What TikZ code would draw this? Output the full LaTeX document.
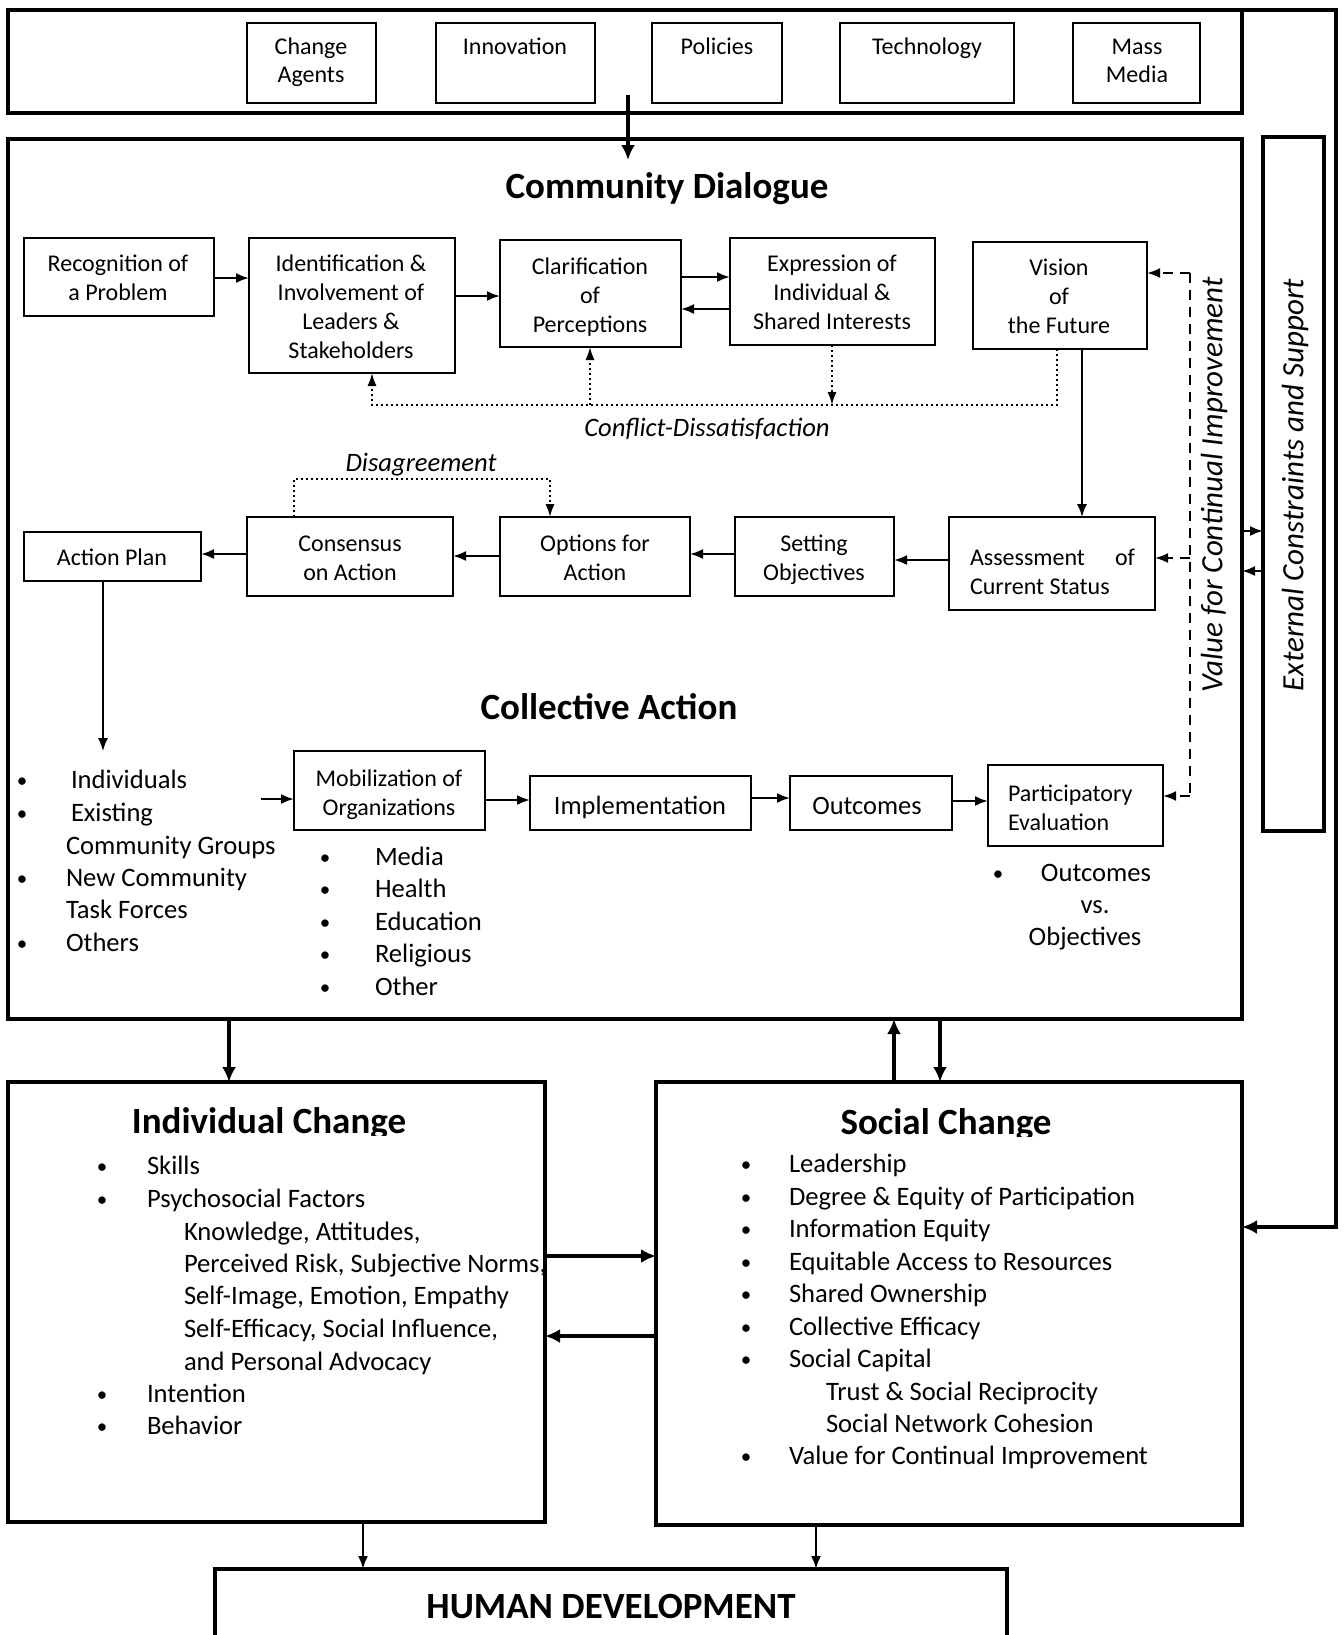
\documentclass[tikz,border=0pt]{standalone}
\usepackage{fontspec}
\setmainfont{Carlito}
\usetikzlibrary{arrows.meta,fit}
\begin{document}
\begin{tikzpicture}[x=0.5pt,y=-0.5pt,
  every node/.style={inner sep=0pt,outer sep=0pt},
  box/.style={draw,line width=1.4pt},
  heavy/.style={draw,line width=1.8pt},
  bt/.style={font=\fontsize{12}{14.5}\selectfont,align=center,
    execute at begin node=\strut,execute at end node=\strut},
  bt13/.style={font=\fontsize{13.2}{16}\selectfont,align=center,
    execute at begin node=\strut,execute at end node=\strut},
  ttl/.style={font=\bfseries\fontsize{18.5}{22}\selectfont,anchor=base},
  lab/.style={font=\itshape\fontsize{13.3}{16}\selectfont},
  rot/.style={rotate=90,font=\itshape\fontsize{15.5}{18}\selectfont},
  li/.style={font=\fontsize{13.3}{16}\selectfont,anchor=base west},
  bu/.style={font=\fontsize{10.5}{12}\selectfont,anchor=base},
  pl/.style={font=\fontsize{13.3}{16}\selectfont,anchor=base},
  arr/.style={-{Latex[length=6.5pt,width=5pt]}},
  arrs/.style={-{Latex[length=6.5pt,width=4.6pt]}},
  arrb/.style={-{Latex[length=7.5pt,width=7pt]}},
  thinl/.style={line width=0.8pt},
  medl/.style={line width=1.1pt},
  thkl/.style={line width=1.8pt},
  fb/.style={line width=1pt,dash pattern=on 1.2pt off 1.3pt},
  dsh/.style={line width=1pt,dash pattern=on 5pt off 3.5pt}]

\useasboundingbox (0,0) rectangle (1344,1635);

% ---------- top box ----------
\node[heavy,fit={(8,10) (1242,113)}] (top) {};
\node[box,fit={(247,23) (376,103)}] (ca) {};
\node[bt,font=\fontsize{12}{14}\selectfont] (cat) at (311,64) {Change\\Agents};
\node[box,fit={(436,23) (595,103)}] (inn) {};
\node[bt] (innt) at (515,49) {Innovation};
\node[box,fit={(652,23) (782,103)}] (pol) {};
\node[bt] (polt) at (717,49) {Policies};
\node[box,fit={(840,23) (1014,103)}] (tec) {};
\node[bt] (tect) at (927,49) {Technology};
\node[box,fit={(1073,23) (1200,103)}] (mm) {};
\node[bt,font=\fontsize{12}{14}\selectfont] (mmt) at (1137,65) {Mass\\Media};

% ---------- community dialogue ----------
\node[heavy,fit={(8,139) (1242,1019)}] (cd) {};
\node[ttl] (cdt) at (667,198) {Community Dialogue};

\node[box,fit={(24,238) (214,316)}] (rec) {};
\node[bt] (rect) at (118,282) {Recognition of\\a Problem};
\node[box,fit={(249,238) (455,373)}] (ide) {};
\node[bt] (idet) at (351,311) {Identification \&\\Involvement of\\Leaders \&\\Stakeholders};
\node[box,fit={(500,240) (681,347)}] (cla) {};
\node[bt] (clat) at (590,300) {Clarification\\of\\Perceptions};
\node[box,fit={(730,238) (935,345)}] (exp) {};
\node[bt] (expt) at (832,297) {Expression of\\Individual \&\\Shared Interests};
\node[box,fit={(973,242) (1147,349)}] (vis) {};
\node[bt] (vist) at (1059,301) {Vision\\of\\the Future};

\draw[medl,arr] (rec.east |- 0,278) -- (ide.west |- 0,278);
\draw[medl,arr] (ide.east |- 0,296) -- (cla.west |- 0,296);
\draw[medl,arr] (cla.east |- 0,277) -- (exp.west |- 0,277);
\draw[medl,arr] (exp.west |- 0,309) -- (cla.east |- 0,309);

\coordinate (fr) at (1057,405);
\coordinate (fl) at (372,405);
\coordinate (fc) at (590,405);
\coordinate (fe) at (832,405);
\draw[fb,arrs] (fr |- vis.south) -- (fr) -- (fl) -- (fl |- ide.south);
\draw[fb,arrs] (fc) -- (fc |- cla.south);
\draw[fb,arrs] (fe |- exp.south) -- (fe);
\node[lab] (cdl) at (707,429) {Conflict-Dissatisfaction};

\node[box,fit={(24,532) (201,581)}] (ap) {};
\node[bt] (apt) at (112,560) {Action Plan};
\node[box,fit={(247,517) (453,596)}] (con) {};
\node[bt] (cont) at (350,563) {Consensus\\on Action};
\node[box,fit={(500,517) (690,596)}] (opt) {};
\node[bt] (optt) at (595,562) {Options for\\Action};
\node[box,fit={(735,517) (894,596)}] (set) {};
\node[bt] (sett) at (814,562) {Setting\\Objectives};
\node[box,fit={(949,517) (1155,610)}] (ass) {};
\node[bt,align=left,anchor=west] (asst) at (970,576) {\makebox[82.5pt]{Assessment\hfill of}\\Current Status};

\coordinate (va2) at (1082,0);
\draw[thinl,arr] (vis.south -| va2) -- (ass.north -| va2);

\draw[medl,arr] (ass.west |- 0,560) -- (set.east |- 0,560);
\draw[medl,arr] (set.west |- 0,554) -- (opt.east |- 0,554);
\draw[medl,arr] (opt.west |- 0,556) -- (con.east |- 0,556);
\draw[medl,arr] (con.west |- 0,554) -- (ap.east |- 0,554);

\coordinate (dl) at (294,479);
\coordinate (dr) at (550,479);
\draw[fb,arrs] (dl |- con.north) -- (dl) -- (dr) -- (dr |- opt.north);
\node[lab] (dis) at (421,465) {Disagreement};

\coordinate (apd) at (103,751);
\draw[thinl,arr] (apd |- ap.south) -- (apd);

\node[ttl] (cat2) at (609,719) {Collective Action};

% left list
\node[bu] (lb1) at (22,787) {•};
\node[bu] (lb2) at (22,820) {•};
\node[bu] (lb3) at (22,885) {•};
\node[bu] (lb4) at (22,950) {•};
\node[li] (lt1) at (71,788) {Individuals};
\node[li] (lt2) at (71,821) {Existing};
\node[li] (lt3) at (66,854) {Community Groups};
\node[li] (lt4) at (66,886) {New Community};
\node[li] (lt5) at (66,918) {Task Forces};
\node[li] (lt6) at (66,951) {Others};

\node[box,fit={(294,751) (485,830)}] (mob) {};
\node[bt] (mobt) at (389,797) {Mobilization of\\Organizations};
\node[box,fit={(530,776) (751,830)}] (imp) {};
\node[bt13] (impt) at (640,808) {Implementation};
\node[box,fit={(790,776) (952,830)}] (out) {};
\node[bt13] (outt) at (867,808) {Outcomes};
\node[box,fit={(988,765) (1163,846)}] (par) {};
\node[bt,align=left,anchor=west] (part) at (1008,812) {Participatory\\Evaluation};

\coordinate (la) at (261,799);
\draw[medl,arr] (la) -- (mob.west |- la);
\draw[medl,arr] (mob.east |- 0,800) -- (imp.west |- 0,800);
\draw[medl,arr] (imp.east |- 0,798) -- (out.west |- 0,798);
\draw[medl,arr] (out.east |- 0,801) -- (par.west |- 0,801);

% mobilization list
\node[bu] (mb1) at (325,864) {•};
\node[bu] (mb2) at (325,896) {•};
\node[bu] (mb3) at (325,929) {•};
\node[bu] (mb4) at (325,961) {•};
\node[bu] (mb5) at (325,994) {•};
\node[li] (mt1) at (375,865) {Media};
\node[li] (mt2) at (375,897) {Health};
\node[li] (mt3) at (375,930) {Education};
\node[li] (mt4) at (375,962) {Religious};
\node[li] (mt5) at (375,995) {Other};

% participatory list
\node[bu] (pb1) at (998,880) {•};
\node[pl] (pt1) at (1096,881) {Outcomes};
\node[pl] (pt2) at (1095,913) {vs.};
\node[pl] (pt3) at (1085,945) {Objectives};

% value for continual improvement
\coordinate (v1) at (1190,273);
\coordinate (v2) at (1190,558);
\coordinate (v3) at (1190,796);
\draw[dsh] (v1) -- (v3);
\draw[dsh,arr] (v1) -- (v1 -| vis.east);
\draw[dsh,arr] (v2) -- (v2 -| ass.east);
\draw[dsh,arr] (v3) -- (v3 -| par.east);
\node[rot] (vci) at (1214,485) {Value for Continual Improvement};

% external constraints
\node[heavy,fit={(1263,137) (1324,831)}] (ext) {};
\node[rot] (extt) at (1295,485) {External Constraints and Support};
\draw[medl,arr] (cd.east |- 0,531) -- (ext.west |- 0,531);
\draw[medl,arr] (ext.west |- 0,571) -- (cd.east |- 0,571);

% top arrow
\coordinate (ta) at (628,95);
\coordinate (tb) at (628,160);
\draw[thkl,arrb] (ta) -- (tb);

% ---------- individual change ----------
\node[heavy,fit={(8,1082) (545,1522)}] (ic) {};
\begin{scope}
\clip (10,1084) rectangle (543,1135);
\node[ttl] (ict) at (269,1133) {Individual Change};
\end{scope}
\node[bu] (ib1) at (102,1173) {•};
\node[bu] (ib2) at (102,1206) {•};
\node[bu] (ib3) at (102,1401) {•};
\node[bu] (ib4) at (102,1433) {•};
\node[li] (it1) at (147,1174) {Skills};
\node[li] (it2) at (147,1207) {Psychosocial Factors};
\node[li] (it3) at (184,1240) {Knowledge, Attitudes,};
\node[li] (it4) at (184,1272) {Perceived Risk, Subjective Norms,};
\node[li] (it5) at (184,1304) {Self-Image, Emotion, Empathy};
\node[li] (it6) at (184,1337) {Self-Efficacy, Social Influence,};
\node[li] (it7) at (184,1370) {and Personal Advocacy};
\node[li] (it8) at (147,1402) {Intention};
\node[li] (it9) at (147,1434) {Behavior};

% ---------- social change ----------
\node[heavy,fit={(656,1082) (1242,1525)}] (sc) {};
\begin{scope}
\clip (658,1084) rectangle (1240,1136);
\node[ttl] (sct) at (946,1134) {Social Change};
\end{scope}
\node[bu] (sb1) at (746,1171) {•};
\node[bu] (sb2) at (746,1204) {•};
\node[bu] (sb3) at (746,1236) {•};
\node[bu] (sb4) at (746,1269) {•};
\node[bu] (sb5) at (746,1301) {•};
\node[bu] (sb6) at (746,1334) {•};
\node[bu] (sb7) at (746,1366) {•};
\node[bu] (sb8) at (746,1463) {•};
\node[li] (st1) at (789,1172) {Leadership};
\node[li] (st2) at (789,1205) {Degree \& Equity of Participation};
\node[li] (st3) at (789,1237) {Information Equity};
\node[li] (st4) at (789,1270) {Equitable Access to Resources};
\node[li] (st5) at (789,1302) {Shared Ownership};
\node[li] (st6) at (789,1335) {Collective Efficacy};
\node[li] (st7) at (789,1367) {Social Capital};
\node[li] (st8) at (826,1400) {Trust \& Social Reciprocity};
\node[li] (st9) at (826,1432) {Social Network Cohesion};
\node[li] (st10) at (789,1464) {Value for Continual Improvement};

% ---------- human development ----------
\node[heavy,fit={(215,1569) (1007,1700)}] (hd) {};
\node[ttl] (hdt) at (611,1618) {HUMAN DEVELOPMENT};

% ---------- connectors between big boxes ----------
\coordinate (o1) at (1336,10);
\coordinate (o2) at (1336,1227);
\draw[thkl,arrb] (top.north east) -- (o1) -- (o2) -- (sc.east |- o2);

\coordinate (b1) at (229,0);
\coordinate (b2) at (894,0);
\coordinate (b3) at (940,0);
\draw[thkl,arrb] (cd.south -| b1) -- (ic.north -| b1);
\draw[thkl,arrb] (sc.north -| b2) -- (cd.south -| b2);
\draw[thkl,arrb] (cd.south -| b3) -- (sc.north -| b3);

\draw[thkl,arrb] (ic.east |- 0,1256) -- (sc.west |- 0,1256);
\draw[thkl,arrb] (sc.west |- 0,1336) -- (ic.east |- 0,1336);

\coordinate (h1) at (363,0);
\coordinate (h2) at (816,0);
\draw[medl,arr] (ic.south -| h1) -- (hd.north -| h1);
\draw[medl,arr] (sc.south -| h2) -- (hd.north -| h2);
\end{tikzpicture}
\end{document}
